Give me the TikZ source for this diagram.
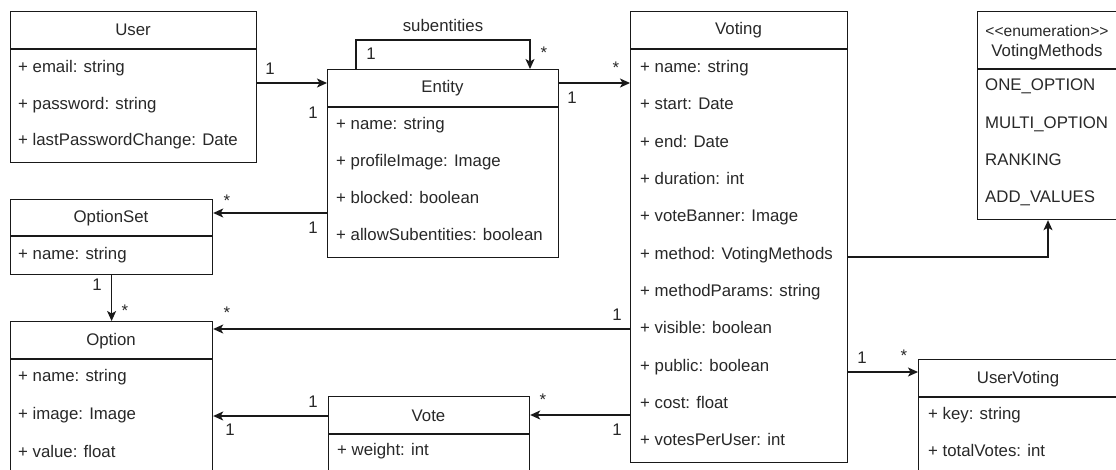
\documentclass[tikz,border=0pt]{standalone}
\usepackage{fontspec}
\setmainfont{Liberation Sans}
\usetikzlibrary{arrows.meta}
\definecolor{ink}{RGB}{40,40,40}
\definecolor{edge}{RGB}{25,25,25}
\newcommand{\uifont}{\fontsize{16.8}{20}\selectfont}
\tikzset{
  box/.style={draw=edge, line width=1.2pt, anchor=north west, inner sep=0pt, fill=white},
  sep/.style={draw=edge, line width=1.2pt},
  title/.style={text=ink, inner sep=0pt, font=\uifont},
  attr/.style={text=ink, anchor=west, inner sep=0pt, text height=0.72em, text depth=0.2em, font=\uifont},
  mult/.style={text=ink, inner sep=0pt, font=\uifont},
  assoc/.style={draw=edge, line width=1.2pt, -{Stealth[length=10pt,width=9pt,inset=2.5pt]}},
  line/.style={draw=edge, line width=1.2pt},
}
\begin{document}
\begin{tikzpicture}[x=1pt,y=-1pt]
\useasboundingbox (0,0) rectangle (1116,469);
\clip (0,0) rectangle (1116,469);
\fill[white] (0,0) rectangle (1116,469);

% ---------- User ----------
\node[box, minimum width=246pt, minimum height=151pt] (user) at (10,11) {};
\draw[sep] (user.west |- 0,49) -- (user.east |- 0,49);
\node[title] (userT) at (133,30) {User};
\node[attr] (u1) at (18,70) {+ email: string};
\node[attr] (u2) at (18,107) {+ password: string};
\node[attr] (u3) at (18,143) {+ lastPasswordChange: Date};

% ---------- Entity ----------
\node[box, minimum width=231pt, minimum height=188pt] (entity) at (327,69) {};
\draw[sep] (entity.west |- 0,107) -- (entity.east |- 0,107);
\node[title] (entityT) at (442.5,88) {Entity};
\node[attr] (e1) at (336,127) {+ name: string};
\node[attr] (e2) at (336,164) {+ profileImage: Image};
\node[attr] (e3) at (336,201) {+ blocked: boolean};
\node[attr] (e4) at (336,238) {+ allowSubentities: boolean};

% ---------- Voting ----------
\node[box, minimum width=217pt, minimum height=451pt] (voting) at (630,11) {};
\draw[sep] (voting.west |- 0,49) -- (voting.east |- 0,49);
\node[title] (votingT) at (738.5,30) {Voting};
\node[attr] (v1) at (640,70) {+ name: string};
\node[attr] (v2) at (640,107.3) {+ start: Date};
\node[attr] (v3) at (640,144.6) {+ end: Date};
\node[attr] (v4) at (640,181.9) {+ duration: int};
\node[attr] (v5) at (640,219.2) {+ voteBanner: Image};
\node[attr] (v6) at (640,256.5) {+ method: VotingMethods};
\node[attr] (v7) at (640,293.8) {+ methodParams: string};
\node[attr] (v8) at (640,331.1) {+ visible: boolean};
\node[attr] (v9) at (640,368.4) {+ public: boolean};
\node[attr] (v10) at (640,405.7) {+ cost: float};
\node[attr] (v11) at (640,443) {+ votesPerUser: int};

% ---------- VotingMethods ----------
\node[box, minimum width=139pt, minimum height=208pt] (enum) at (977,11) {};
\draw[sep] (enum.west |- 0,69) -- (enum.east |- 0,69);
\node[title, font=\fontsize{15.6}{18}\selectfont] (enumS) at (1047,31) {<{}<enumeration>{}>};
\node[title] (enumT) at (1047,52) {VotingMethods};
\node[attr] (m1) at (985,88) {ONE\_OPTION};
\node[attr] (m2) at (985,126) {MULTI\_OPTION};
\node[attr] (m3) at (985,163) {RANKING};
\node[attr] (m4) at (985,200) {ADD\_VALUES};

% ---------- OptionSet ----------
\node[box, minimum width=202pt, minimum height=75pt] (optset) at (10,199) {};
\draw[sep] (optset.west |- 0,236) -- (optset.east |- 0,236);
\node[title] (optsetT) at (111,218) {OptionSet};
\node[attr] (os1) at (18,257) {+ name: string};

% ---------- Option ----------
\node[box, minimum width=202pt, minimum height=180pt] (option) at (10,321) {};
\draw[sep] (option.west |- 0,359) -- (option.east |- 0,359);
\node[title] (optionT) at (111,341) {Option};
\node[attr] (o1) at (18,379) {+ name: string};
\node[attr] (o2) at (18,417) {+ image: Image};
\node[attr] (o3) at (18,455) {+ value: float};

% ---------- Vote ----------
\node[box, minimum width=201pt, minimum height=110pt] (vote) at (328,396) {};
\draw[sep] (vote.west |- 0,434) -- (vote.east |- 0,434);
\node[title] (voteT) at (428.5,416) {Vote};
\node[attr] (w1) at (337,453) {+ weight: int};

% ---------- UserVoting ----------
\node[box, minimum width=200pt, minimum height=150pt] (uvoting) at (918,359) {};
\draw[sep] (uvoting.west |- 0,397) -- (uvoting.east |- 0,397);
\node[title] (uvotingT) at (1018,379) {UserVoting};
\node[attr] (uv1) at (928,417) {+ key: string};
\node[attr] (uv2) at (928,454) {+ totalVotes: int};

% ---------- Connectors ----------
% User -> Entity
\draw[assoc] (user.east |- 0,83) -- (entity.west |- 0,83);
\node[mult] (l1) at (270,69) {1};
\node[mult] (l2) at (313,113) {1};

% Entity self association
\draw[assoc] (356,0 |- entity.north) -- (356,40) -- (530,40) -- (530,0 |- entity.north);
\node[mult] (l3) at (443,25) {subentities};
\node[mult] (l4) at (371,54) {1};
\node[mult] (l5) at (544,53) {*};

% Entity -> Voting
\draw[assoc] (entity.east |- 0,83) -- (voting.west |- 0,83);
\node[mult] (l6) at (572,98) {1};
\node[mult] (l7) at (616,68) {*};

% Entity -> OptionSet
\draw[assoc] (entity.west |- 0,213) -- (optset.east |- 0,213);
\node[mult] (l8) at (227,201) {*};
\node[mult] (l9) at (313,228) {1};

% OptionSet -> Option
\draw[assoc] (optset.south) -- (option.north);
\node[mult] (l10) at (97,285) {1};
\node[mult] (l11) at (125,311) {*};

% Voting -> Option
\draw[assoc] (voting.west |- 0,329) -- (option.east |- 0,329);
\node[mult] (l12) at (227,313) {*};
\node[mult] (l13) at (617,315) {1};

% Vote -> Option
\draw[assoc] (vote.west |- 0,416) -- (option.east |- 0,416);
\node[mult] (l14) at (313,402) {1};
\node[mult] (l15) at (230,430) {1};

% Voting -> Vote
\draw[assoc] (voting.west |- 0,415) -- (vote.east |- 0,415);
\node[mult] (l16) at (543,400) {*};
\node[mult] (l17) at (617,430) {1};

% Voting -> UserVoting
\draw[assoc] (voting.east |- 0,372) -- (uvoting.west |- 0,372);
\node[mult] (l18) at (862,358) {1};
\node[mult] (l19) at (904,356) {*};

% Voting -> VotingMethods
\draw[assoc] (voting.east |- 0,257) -- (1048,257) -- (1048,0 |- enum.south);
\end{tikzpicture}
\end{document}
